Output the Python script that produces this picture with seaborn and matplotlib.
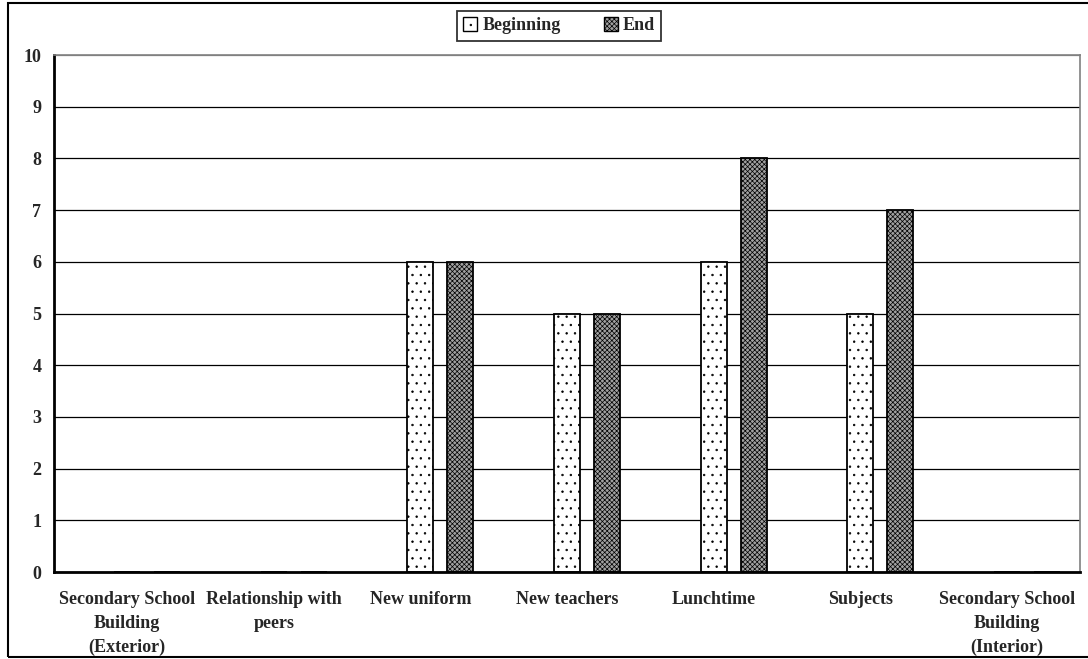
import numpy as np
import pandas as pd
import matplotlib
matplotlib.use('Agg')
import matplotlib.pyplot as plt
from matplotlib.patches import Patch, Rectangle
import seaborn as sns

# data
categories = ['Secondary School\nBuilding\n(Exterior)', 'Relationship with\npeers', 'New uniform',
              'New teachers', 'Lunchtime', 'Subjects', 'Secondary School\nBuilding\n(Interior)']
beginning = [0, 0, 6, 5, 6, 5, 0]
end = [0, 0, 6, 5, 8, 7, 0]
# the original has an empty first series, keeps the bars offset to the right
empty = [0, 0, 0, 0, 0, 0, 0]
series = ['Empty', 'Beginning', 'End']

df = pd.DataFrame({
    'category': categories * 3,
    'value': empty + beginning + end,
    'series': ['Empty'] * 7 + ['Beginning'] * 7 + ['End'] * 7,
})

sns.set_style('white')
plt.rcParams['font.family'] = ['Liberation Serif', 'DejaVu Serif']
plt.rcParams['font.weight'] = 'bold'
plt.rcParams['hatch.linewidth'] = 0.5

fig = plt.figure(figsize=(10.88, 6.59), dpi=100)
ax = fig.add_axes([0.0496, 0.132, 0.9430, 0.7845])

sns.barplot(data=df, x='category', y='value', hue='series', hue_order=series,
            order=categories, width=0.82, gap=0.35, dodge=True,
            edgecolor='black', linewidth=1.3, legend=False, ax=ax)

# style the series
for p in ax.containers[0]:
    p.set_visible(False)
for p in ax.containers[1]:
    p.set_facecolor('white')
    p.set_hatch('..')
for p in ax.containers[2]:
    p.set_facecolor('#a0a0a0')
    p.set_hatch('xxxxxxx')

ax.set_xlim(-0.5, 6.5)
ax.set_ylim(0, 10)
ax.set_yticks(range(0, 11))
ax.set_xlabel('')
ax.set_ylabel('')

ax.yaxis.grid(True, color='black', lw=0.9)
ax.set_axisbelow(True)
ax.yaxis.get_gridlines()[-1].set_color('#808080')

for s in ['left', 'bottom']:
    ax.spines[s].set_color('black')
    ax.spines[s].set_linewidth(2)
for s in ['top', 'right']:
    ax.spines[s].set_color('#808080')
    ax.spines[s].set_linewidth(1.2)

ax.tick_params(axis='y', which='major', length=5, width=1.5, direction='out', labelsize=13, pad=4)
ax.tick_params(axis='x', which='major', length=0, labelsize=13, pad=14)
ax.set_xticks(np.arange(-0.5, 7.0, 1.0), minor=True)
ax.tick_params(axis='x', which='minor', length=5, width=1.5, direction='out')
ax.set_xticks(range(len(categories)))
ax.set_xticklabels(categories, linespacing=1.5, fontweight='bold')
for lab in ax.get_yticklabels():
    lab.set_fontweight('bold')

handles = [Patch(facecolor='white', edgecolor='black', hatch='..', label='Beginning'),
           Patch(facecolor='#a0a0a0', edgecolor='black', hatch='xxxxxxx', label='End')]
leg = fig.legend(handles=handles, loc='center', bbox_to_anchor=(0.514, 0.961), ncol=2,
                 frameon=True, fancybox=False, edgecolor='black', fontsize=13,
                 handlelength=0.75, handleheight=0.75, handletextpad=0.3, columnspacing=2.4,
                 borderpad=0.35)
leg.get_frame().set_linewidth(1.3)
for t in leg.get_texts():
    t.set_fontweight('bold')

# outer chart border
fig.patches.append(Rectangle((8 / 1088, 2 / 659), 1.1, 654 / 659, transform=fig.transFigure,
                             fill=False, edgecolor='black', lw=1.5))

fig.savefig('out.png', dpi=100)
